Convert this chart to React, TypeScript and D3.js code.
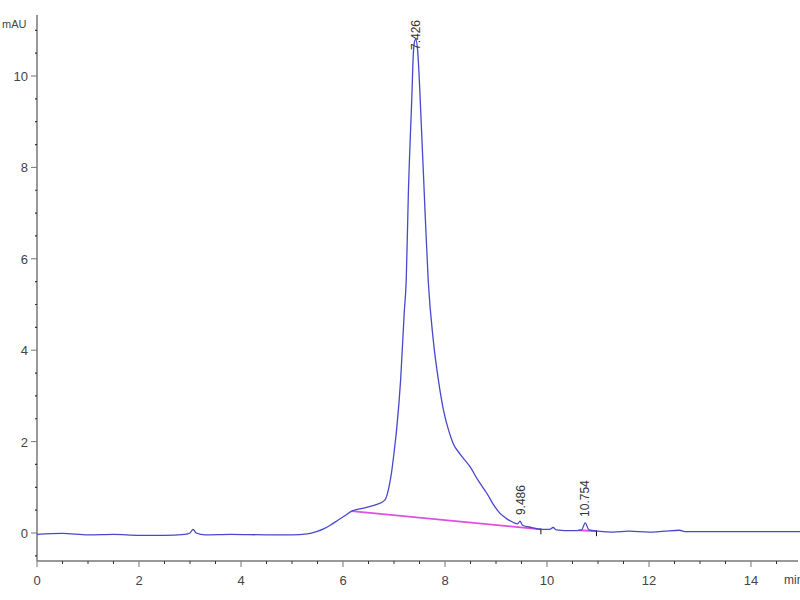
import { useEffect, useRef } from "react";
import * as d3 from "d3";

// retention time (min) and absorbance (mAU)
const times = [
  0, 0.5, 1.0, 1.5, 2.0, 2.5, 2.9, 3.0, 3.06, 3.12, 3.3, 3.8, 4.5, 5.0, 5.3,
  5.48, 5.62, 5.75, 5.9, 6.05, 6.17, 6.3, 6.46, 6.65, 6.82, 6.9, 6.95, 7.0,
  7.05, 7.13, 7.2, 7.24, 7.28, 7.35, 7.38, 7.41, 7.43, 7.46, 7.54, 7.61, 7.67,
  7.77, 7.87, 7.97, 8.07, 8.16, 8.3, 8.49, 8.65, 8.82, 8.95, 9.08, 9.2, 9.34,
  9.42, 9.47, 9.52, 9.7, 9.88, 10.05, 10.12, 10.18, 10.5, 10.68, 10.75, 10.82,
  11.0, 11.3, 11.6, 12.0, 12.3, 12.6, 12.7, 13.0, 14.0, 15.0,
];
const signal = [
  -0.03, -0.01, -0.04, -0.03, -0.05, -0.05, -0.03, 0.0, 0.08, 0.0, -0.04,
  -0.03, -0.04, -0.04, -0.02, 0.03, 0.09, 0.17, 0.28, 0.39, 0.48, 0.52, 0.56,
  0.62, 0.72, 1.0, 1.31, 1.75, 2.25, 3.35, 4.81, 5.54, 7.36, 9.55, 10.5, 10.78,
  10.8, 10.6, 8.82, 7.0, 5.54, 4.22, 3.35, 2.69, 2.25, 1.96, 1.72, 1.45, 1.15,
  0.87, 0.62, 0.43, 0.32, 0.23, 0.2, 0.26, 0.17, 0.12, 0.08, 0.08, 0.12, 0.07,
  0.05, 0.07, 0.22, 0.07, 0.04, 0.02, 0.04, 0.02, 0.04, 0.06, 0.03, 0.03, 0.03,
  0.03,
];

// integration baselines: [start t, start v, end t, end v]
const baselines = [
  [6.17, 0.48, 9.88, 0.08],
  [10.62, 0.06, 10.97, 0.04],
];

const peakLabels = ["7.426", "9.486", "10.754"];
const peakTimes = [7.426, 9.486, 10.754];
const peakTops = [10.8, 0.26, 0.22];

const xTicks = [0, 2, 4, 6, 8, 10, 12, 14];
const yTicks = [0, 2, 4, 6, 8, 10];

export default function App() {
  const ref = useRef<SVGSVGElement | null>(null);

  useEffect(() => {
    if (!ref.current) return;
    const svg = d3.select(ref.current);
    svg.selectAll("*").remove();

    const x = d3.scaleLinear().domain([0, 15]).range([37, 802]);
    const y = d3.scaleLinear().domain([0, 10]).range([533, 76]);
    const x0 = 37;
    const yAxisPos = 561;
    const top = 15;
    const font = "Liberation Sans, Arial, sans-serif";
    const axisColor = "#777";
    const textColor = "#444";

    // x axis
    svg.append("line")
      .attr("x1", x0).attr("x2", 798)
      .attr("y1", yAxisPos).attr("y2", yAxisPos)
      .attr("stroke", axisColor).attr("stroke-width", 1.5);
    const xMinor = d3.range(0.5, 15, 0.5).filter((t) => t % 2 !== 0);
    svg.append("g").selectAll("line").data(xMinor).join("line")
      .attr("x1", (d) => x(d)).attr("x2", (d) => x(d))
      .attr("y1", yAxisPos).attr("y2", yAxisPos + 3)
      .attr("stroke", "#333").attr("stroke-width", 1);
    svg.append("g").selectAll("line").data(xTicks).join("line")
      .attr("x1", (d) => x(d)).attr("x2", (d) => x(d))
      .attr("y1", yAxisPos).attr("y2", yAxisPos + 6)
      .attr("stroke", axisColor).attr("stroke-width", 1);
    svg.append("g").selectAll("text").data(xTicks).join("text")
      .attr("x", (d) => x(d)).attr("y", 585)
      .attr("text-anchor", "middle")
      .attr("font-family", font).attr("font-size", 13)
      .attr("fill", textColor)
      .text((d) => d);
    // unit label runs off the right edge, as in the original
    svg.append("text")
      .attr("x", 784).attr("y", 584)
      .attr("font-family", font).attr("font-size", 12)
      .attr("fill", textColor).text("min");

    // y axis
    svg.append("line")
      .attr("x1", x0).attr("x2", x0)
      .attr("y1", top).attr("y2", yAxisPos)
      .attr("stroke", axisColor).attr("stroke-width", 1.5);
    const yMinor = d3.range(-0.5, 11.01, 0.5).filter((v) => v % 2 !== 0);
    svg.append("g").selectAll("line").data(yMinor).join("line")
      .attr("x1", x0 - 2).attr("x2", x0)
      .attr("y1", (d) => y(d)).attr("y2", (d) => y(d))
      .attr("stroke", "#333").attr("stroke-width", 1.2);
    svg.append("g").selectAll("line").data(yTicks).join("line")
      .attr("x1", x0 - 6).attr("x2", x0)
      .attr("y1", (d) => y(d)).attr("y2", (d) => y(d))
      .attr("stroke", axisColor).attr("stroke-width", 1);
    svg.append("g").selectAll("text").data(yTicks).join("text")
      .attr("x", 28).attr("y", (d) => y(d) + 5)
      .attr("text-anchor", "end")
      .attr("font-family", font).attr("font-size", 13)
      .attr("fill", textColor)
      .text((d) => d);
    svg.append("text")
      .attr("x", 2).attr("y", 28)
      .attr("font-family", font).attr("font-size", 11)
      .attr("fill", textColor).text("mAU");

    // baselines
    svg.append("g").selectAll("line").data(baselines).join("line")
      .attr("x1", (d) => x(d[0])).attr("y1", (d) => y(d[1]))
      .attr("x2", (d) => x(d[2])).attr("y2", (d) => y(d[3]))
      .attr("stroke", "#e050e0").attr("stroke-width", 1.8);
    svg.append("g").selectAll("line").data(baselines).join("line")
      .attr("x1", (d) => x(d[2])).attr("x2", (d) => x(d[2]))
      .attr("y1", (d) => y(d[3]) - 1).attr("y2", (d) => y(d[3]) + 5)
      .attr("stroke", "#111").attr("stroke-width", 1);

    // trace
    const pts = times.map((t, i) => [t, signal[i]] as [number, number]);
    const line = d3.line<[number, number]>()
      .x((d) => x(d[0]))
      .y((d) => y(d[1]))
      .curve(d3.curveMonotoneX);
    svg.append("path").datum(pts)
      .attr("fill", "none")
      .attr("stroke", "#4848cc")
      .attr("stroke-width", 1.3)
      .attr("d", line);

    // peak labels, rotated; kept inside the plot top (they overlap a tall apex)
    const labelLen = 35;
    svg.append("g").selectAll("text").data(peakLabels).join("text")
      .attr("transform", (_, i) => {
        const yy = Math.max(y(peakTops[i]) - 6, top + labelLen);
        return `translate(${x(peakTimes[i]) + 4},${yy}) rotate(-90)`;
      })
      .attr("font-family", font).attr("font-size", 12)
      .attr("fill", "#333")
      .text((d) => d);
  }, []);

  return (
    <svg
      ref={ref}
      width={800}
      height={600}
      style={{ position: "fixed", left: 0, top: 0, background: "#fff" }}
    />
  );
}
